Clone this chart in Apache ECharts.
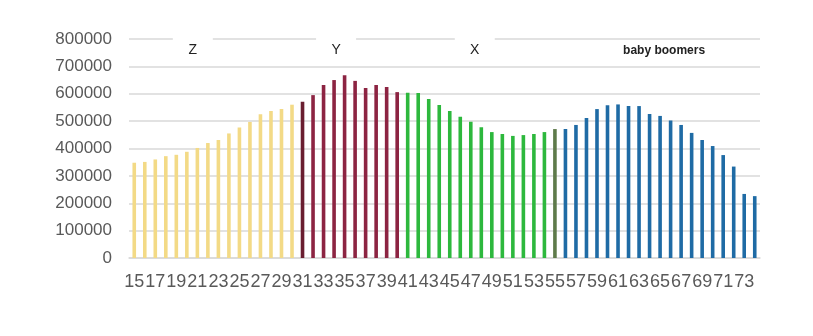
<!DOCTYPE html>
<html><head><meta charset="utf-8">
<script src="https://cdn.jsdelivr.net/npm/echarts@6/dist/echarts.min.js"></script>
<style>html,body{margin:0;padding:0;background:#fff}#c{width:813px;height:336px}</style>
</head><body><div id="c"></div>
<script>
// Ages (categories) 15..74
const ages = [15,16,17,18,19,20,21,22,23,24,25,26,27,28,29,30,31,32,33,34,35,36,37,38,39,40,41,42,43,44,45,46,47,48,49,50,51,52,53,54,55,56,57,58,59,60,61,62,63,64,65,66,67,68,69,70,71,72,73,74];
const population = [
  348000,351000,360000,372000,377000,388000,402000,420000,431000,455000,477000,497000,525000,537000,544000,560000,
  571000,595000,632000,650000,668000,647000,621000,632000,625000,606000,
  604000,603000,581000,559000,537000,516000,498000,478000,460000,453000,446000,449000,453000,460000,471000,
  471000,486000,511000,544000,558000,561000,555000,555000,526000,519000,502000,486000,457000,431000,409000,376000,334000,234000,226000
];
// Generation labels and their first/last age
const generations = ['Z','Y','X','baby boomers'];
const genStart = [15,31,41,56];
const genEnd = [30,40,55,74];
const genColors = ['#F3DA86','#8C2442','#2DB83D','#1F6BA5'];
const specialAges = [31,55];
const specialColors = ['#6A1E30','#5E7A4A'];
const labelAges = [20,34,47,65];

function colorFor(age){
  const s = specialAges.indexOf(age);
  if (s >= 0) return specialColors[s];
  for (let i=0;i<generations.length;i++) if (age>=genStart[i] && age<=genEnd[i]) return genColors[i];
  return '#999';
}

const chart = echarts.init(document.getElementById('c'), null, {renderer:'canvas'});
const markData = generations.map((g,i)=>({
  coord:[String(labelAges[i]), 758000],
  label:{
    show:true, formatter:g,
    fontSize: i===3 ? 12 : 14,
    fontWeight: i===3 ? 'bold' : 'normal',
    fontFamily:'Liberation Sans, Arial, sans-serif',
    color:'#222',
    backgroundColor: i===3 ? 'transparent' : '#fff',
    width: i===3 ? undefined : 40,
    height: i===3 ? undefined : 26,
    lineHeight: 26,
    align:'center', verticalAlign:'middle',
    offset:[i===0?6:(i===1?2:4),0]
  }
}));

chart.setOption({
  animation:false,
  grid:{left:129,right:53,top:39,bottom:78},
  xAxis:{
    type:'category',
    data:ages.map(String),
    axisLine:{show:true,lineStyle:{color:'#d9d9d9',width:1.5}},
    axisTick:{show:false},
    axisLabel:{interval:1,color:'#595959',fontSize:18,margin:15,fontFamily:'Liberation Sans, Arial, sans-serif'}
  },
  yAxis:{
    type:'value',min:0,max:800000,interval:100000,
    axisLine:{show:false},axisTick:{show:false},
    splitLine:{lineStyle:{color:'#d9d9d9',width:1.5}},
    axisLabel:{color:'#595959',fontSize:17,margin:17,fontFamily:'Liberation Sans, Arial, sans-serif',formatter:v=>String(v)}
  },
  series:[{
    type:'bar',
    barWidth:3.6,
    data:population.map((v,i)=>({value:v,itemStyle:{color:colorFor(ages[i])}})),
    markPoint:{
      symbol:'rect',symbolSize:0,silent:true,
      data:markData
    }
  }]
});
</script></body></html>
